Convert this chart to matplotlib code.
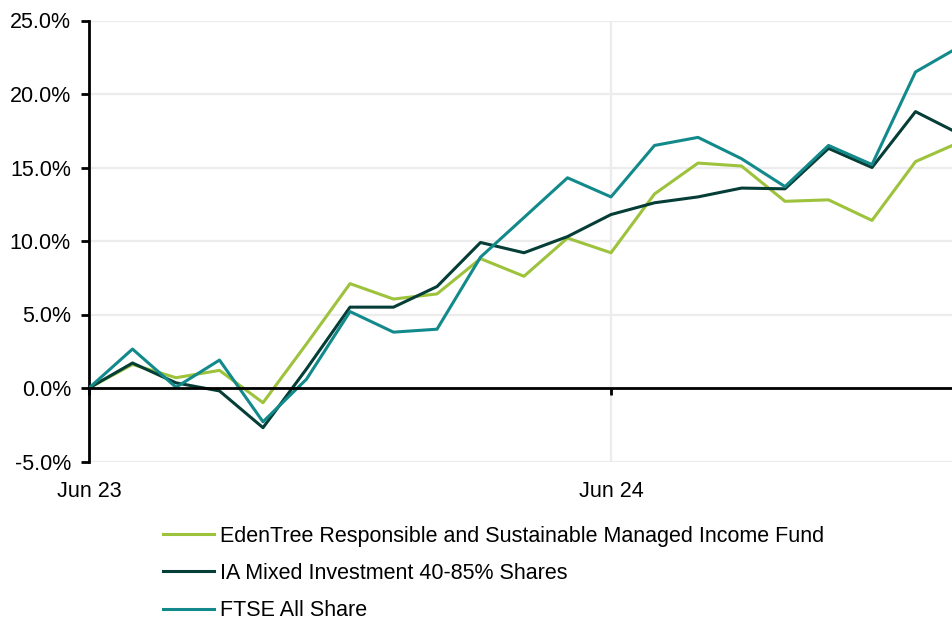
import matplotlib

matplotlib.use("Agg")

import matplotlib.pyplot as plt
from matplotlib.ticker import FuncFormatter

# months since Jun 23
months = list(range(21))

edentree = [0.0, 1.6, 0.7, 1.2, -1.0, 3.0, 7.1, 6.05, 6.4, 8.8, 7.6, 10.2,
            9.2, 13.2, 15.3, 15.1, 12.7, 12.8, 11.4, 15.4, 16.7]
ia_mixed = [0.0, 1.7, 0.35, -0.2, -2.7, 1.3, 5.5, 5.5, 6.9, 9.9, 9.2, 10.3,
            11.8, 12.6, 13.0, 13.6, 13.55, 16.3, 15.0, 18.8, 17.3]
ftse = [0.0, 2.65, 0.05, 1.9, -2.3, 0.6, 5.2, 3.8, 4.0, 8.9, 11.6, 14.3,
        13.0, 16.5, 17.05, 15.6, 13.7, 16.5, 15.2, 21.5, 23.2]

series_names = [
    "EdenTree Responsible and Sustainable Managed Income Fund",
    "IA Mixed Investment 40-85% Shares",
    "FTSE All Share",
]
colors = ["#9dc23b", "#053d37", "#12898a"]

tick_months = [0, 12]
tick_labels = ["Jun 23", "Jun 24"]

plt.rcParams["font.family"] = ["Liberation Sans", "DejaVu Sans"]

fig = plt.figure(figsize=(9.52, 6.22), dpi=100)
ax = fig.add_axes([89 / 952, 1 - 461.5 / 622, 1 - 89 / 952, (461.5 - 20.5) / 622])

for vals, name, c in zip([edentree, ia_mixed, ftse], series_names, colors):
    ax.plot(months, vals, color=c, linewidth=2.2, label=name, zorder=3)

ax.set_xlim(0, (952 - 89) / 43.5)
ax.set_ylim(-5, 25)
ax.set_yticks(range(-5, 26, 5))
ax.yaxis.set_major_formatter(FuncFormatter(lambda v, p: f"{v:.1f}%"))

ax.grid(True, color="#ececec", linewidth=1.6, zorder=0)
ax.set_axisbelow(True)

ax.spines["top"].set_visible(False)
ax.spines["right"].set_visible(False)
ax.spines["left"].set_linewidth(2)
ax.spines["bottom"].set_position(("data", 0))
ax.spines["bottom"].set_linewidth(2)
ax.spines["bottom"].set_zorder(4)

ax.set_xticks(tick_months)
ax.set_xticklabels(tick_labels)
ax.tick_params(axis="y", length=6, width=2, labelsize=15.5, pad=7)
ax.tick_params(axis="x", length=5, width=2, labelsize=15.5, pad=62)

fig.legend(
    loc="upper left",
    bbox_to_anchor=(154 / 952, 1 - 517 / 622),
    frameon=False,
    fontsize=15.5,
    handlelength=2.4,
    handletextpad=0.25,
    labelspacing=0.76,
    borderaxespad=0,
)

fig.savefig("out.png", dpi=100)
plt.close(fig)
